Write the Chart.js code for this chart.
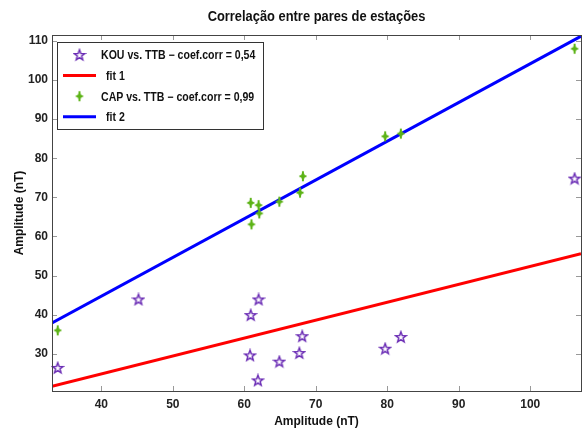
<!DOCTYPE html>
<html><head><meta charset="utf-8">
<script src="https://cdn.jsdelivr.net/npm/chart.js@4/dist/chart.umd.min.js"></script>
<style>html,body{margin:0;padding:0;background:#fff;} #wrap{width:586px;height:429px;position:relative;}</style>
</head><body><div id="wrap"><canvas id="c" width="586" height="429" style="width:586px;height:429px"></canvas></div>
<script>
// ---- data ----
const chartTitle = 'Correlação entre pares de estações';
const xAxisTitle = 'Amplitude (nT)';
const yAxisTitle = 'Amplitude (nT)';
const xTicks = [40, 50, 60, 70, 80, 90, 100];
const yTicks = [30, 40, 50, 60, 70, 80, 90, 100, 110];
const xRange = [33.1, 107.1];
const yRange = [20.5, 111.5];
const seriesLabels = ['KOU vs. TTB − coef.corr = 0,54', 'fit 1', 'CAP vs. TTB − coef.corr = 0,99', 'fit 2'];
const kouX = [33.9, 45.2, 60.8, 60.9, 62.0, 61.9, 64.9, 67.7, 68.1, 79.7, 81.9, 106.2];
const kouY = [26.4, 43.9, 29.6, 39.9, 43.9, 23.2, 28.0, 30.2, 34.5, 31.3, 34.3, 74.8];
const capX = [33.9, 60.9, 61.0, 62.0, 62.1, 64.9, 67.8, 68.2, 79.7, 81.9, 106.2];
const capY = [36.0, 68.6, 63.1, 68.0, 65.9, 68.9, 71.2, 75.4, 85.6, 86.3, 108.0];
const fit1X = [33.1, 107.1];
const fit1Y = [21.7, 55.6];
const fit2X = [33.1, 107.1];
const fit2Y = [37.9, 111.2];

// ---- styles ----
const FONT = "'Liberation Sans', Arial, sans-serif";
const purple = '#6b2db5';
const green = '#5cb317';

function makeStar() {
  const c = document.createElement('canvas');
  c.width = 14; c.height = 14;
  const g = c.getContext('2d');
  g.translate(7, 7.3);
  g.beginPath();
  for (let i = 0; i < 10; i++) {
    const r = i % 2 === 0 ? 5.5 : 2.3;
    const a = -Math.PI / 2 + i * Math.PI / 5;
    const px = r * Math.cos(a), py = r * Math.sin(a);
    if (i === 0) g.moveTo(px, py); else g.lineTo(px, py);
  }
  g.closePath();
  g.strokeStyle = purple; g.lineWidth = 1.5; g.stroke();
  return c;
}
function makeCross() {
  const c = document.createElement('canvas');
  c.width = 12; c.height = 14;
  const g = c.getContext('2d');
  g.translate(6, 7);
  g.fillStyle = green;
  g.beginPath();
  const pts = [[0,-5.6],[1.6,-1.6],[3.8,0],[1.6,1.6],[0,5.6],[-1.6,1.6],[-3.8,0],[-1.6,-1.6]];
  pts.forEach((p, i) => i ? g.lineTo(p[0], p[1]) : g.moveTo(p[0], p[1]));
  g.closePath();
  g.fill();
  g.fillRect(-0.9, -5, 1.8, 10);
  g.fillRect(-3.4, -0.9, 6.8, 1.8);
  return c;
}
const starImg = makeStar();
const crossImg = makeCross();

const toXY = (xs, ys) => xs.map((x, i) => ({x: x, y: ys[i]}));

// draw text squeezed horizontally to mimic the narrow face of the original
function narrowText(ctx, text, x, y, sx, align) {
  ctx.save();
  ctx.translate(x, y);
  ctx.scale(sx, 1);
  ctx.textAlign = align;
  ctx.fillText(text, 0, 0);
  ctx.restore();
}

const boxPlugin = {
  id: 'box',
  afterDatasetsDraw(chart) {
    const {ctx, chartArea: a, scales} = chart;
    ctx.save();
    ctx.strokeStyle = '#999';
    ctx.lineWidth = 1;
    const L = 5;
    ctx.beginPath();
    xTicks.forEach(v => {
      const px = Math.round(scales.x.getPixelForValue(v)) + 0.5;
      ctx.moveTo(px, a.bottom); ctx.lineTo(px, a.bottom - L);
      ctx.moveTo(px, a.top); ctx.lineTo(px, a.top + L);
    });
    yTicks.forEach(v => {
      const py = Math.round(scales.y.getPixelForValue(v)) + 0.5;
      ctx.moveTo(a.left, py); ctx.lineTo(a.left + L, py);
      ctx.moveTo(a.right, py); ctx.lineTo(a.right - L, py);
    });
    ctx.stroke();
    ctx.strokeStyle = '#444';
    ctx.strokeRect(Math.round(a.left) + 0.5, Math.round(a.top) + 0.5, Math.round(a.right - a.left), Math.round(a.bottom - a.top));
    ctx.restore();
  },
  afterDraw(chart) {
    const {ctx, chartArea: a} = chart;
    ctx.save();
    // title
    ctx.fillStyle = '#111';
    ctx.font = 'bold 14px ' + FONT;
    ctx.textBaseline = 'middle';
    narrowText(ctx, chartTitle, (a.left + a.right) / 2, 17, 0.92, 'center');
    // legend
    const bx = 57.5, by = 42.5, bw = 206, bh = 87;
    ctx.fillStyle = '#fff';
    ctx.fillRect(bx, by, bw, bh);
    ctx.strokeStyle = '#333';
    ctx.lineWidth = 1;
    ctx.strokeRect(bx, by, bw, bh);
    ctx.font = 'bold 12px ' + FONT;
    chart.data.datasets.forEach((ds, i) => {
      const y = 55 + i * 20.6;
      ctx.fillStyle = '#111';
      if (ds.type === 'line') {
        ctx.strokeStyle = ds.borderColor;
        ctx.lineWidth = 3;
        ctx.beginPath(); ctx.moveTo(63, y); ctx.lineTo(96, y); ctx.stroke();
        narrowText(ctx, ds.label, 106, y + 1, 0.88, 'left');
      } else {
        const img = ds.pointStyle;
        ctx.drawImage(img, 79.5 - img.width / 2, y - img.height / 2);
        narrowText(ctx, ds.label, 101, y + 1, 0.88, 'left');
      }
    });
    ctx.restore();
  }
};

new Chart(document.getElementById('c'), {
  type: 'scatter',
  data: {
    datasets: [
      {type: 'scatter', label: seriesLabels[0], data: toXY(kouX, kouY), pointStyle: starImg, clip: false, order: 1},
      {type: 'line', label: seriesLabels[1], data: toXY(fit1X, fit1Y), borderColor: '#ff0000', borderWidth: 3, pointRadius: 0, fill: false, order: 3},
      {type: 'scatter', label: seriesLabels[2], data: toXY(capX, capY), pointStyle: crossImg, clip: false, order: 0},
      {type: 'line', label: seriesLabels[3], data: toXY(fit2X, fit2Y), borderColor: '#0000ff', borderWidth: 3, pointRadius: 0, fill: false, order: 2}
    ]
  },
  options: {
    responsive: false,
    animation: false,
    devicePixelRatio: 1,
    layout: {padding: {top: 35, right: 4, left: 0, bottom: 0}},
    plugins: {legend: {display: false}, title: {display: false}, tooltip: {enabled: false}},
    scales: {
      x: {
        type: 'linear', min: xRange[0], max: xRange[1],
        afterBuildTicks: s => { s.ticks = xTicks.map(v => ({value: v})); },
        afterFit: s => { s.height = 38; },
        grid: {display: false, drawTicks: false},
        border: {display: false},
        ticks: {padding: 6, color: '#222', font: {family: FONT, size: 12, weight: 'bold'}},
        title: {display: true, text: xAxisTitle, color: '#111', padding: {top: 2, bottom: 0}, font: {family: FONT, size: 12, weight: 'bold'}}
      },
      y: {
        type: 'linear', min: yRange[0], max: yRange[1],
        afterBuildTicks: s => { s.ticks = yTicks.map(v => ({value: v})); },
        afterFit: s => { s.width = 52; },
        grid: {display: false, drawTicks: false},
        border: {display: false},
        ticks: {padding: 4, color: '#222', font: {family: FONT, size: 12, weight: 'bold'}},
        title: {display: true, text: yAxisTitle, color: '#111', padding: {top: 12, bottom: 0}, font: {family: FONT, size: 12, weight: 'bold'}}
      }
    }
  },
  plugins: [boxPlugin]
});
</script>
</body></html>
